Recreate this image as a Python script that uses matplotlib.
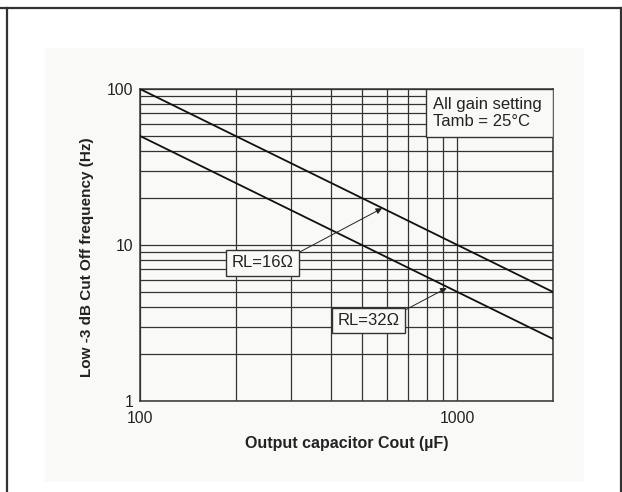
import matplotlib
matplotlib.use('Agg')
import matplotlib.pyplot as plt
from matplotlib.patches import Rectangle
from matplotlib.lines import Line2D
from matplotlib.ticker import FixedLocator, NullFormatter, FixedFormatter

plt.rcParams['font.family'] = ['Liberation Sans', 'DejaVu Sans']

# cutoff frequency vs output capacitor, for the two load resistances
cout = [100, 2000]
f_rl16 = [100, 5]
f_rl32 = [50, 2.5]

x_ticks = [100, 1000]
x_labels = ['100', '1000']
y_ticks = [1, 10, 100]
y_labels = ['1', '10', '100']

panel = '#f9f9f7'
ink = '#333333'

fig = plt.figure(figsize=(6.22, 4.92), dpi=100)
W, H = 622, 492

# light panel behind the chart
fig.patches.append(Rectangle((45 / W, 1 - 482 / H), 539 / W, 434 / H,
                             transform=fig.transFigure, facecolor=panel,
                             edgecolor='none', zorder=-10))
# page frame
for xs, ys in [([0, 1], [1 - 8 / H, 1 - 8 / H]),
               ([6.5 / W, 6.5 / W], [0, 1 - 8 / H]),
               ([621 / W, 621 / W], [0, 1 - 8 / H])]:
    fig.lines.append(Line2D(xs, ys, transform=fig.transFigure, color=ink, lw=1.6))

ax = fig.add_axes([140 / W, 1 - 401 / H, 413 / W, 312 / H])
ax.set_zorder(1)
ax.set_facecolor(panel)
ax.set_xscale('log')
ax.set_yscale('log')
ax.set_xlim(100, 2000)
ax.set_ylim(1, 100)

ax.plot(cout, f_rl16, color='#111111', lw=1.3, zorder=4)
ax.plot(cout, f_rl32, color='#111111', lw=1.3, zorder=4)

ax.xaxis.set_major_locator(FixedLocator(x_ticks))
ax.xaxis.set_major_formatter(FixedFormatter(x_labels))
ax.yaxis.set_major_locator(FixedLocator(y_ticks))
ax.yaxis.set_major_formatter(FixedFormatter(y_labels))
ax.xaxis.set_minor_formatter(NullFormatter())
ax.yaxis.set_minor_formatter(NullFormatter())
ax.tick_params(which='both', length=0, labelsize=11.3, labelcolor='#222222')
ax.tick_params(axis='x', pad=7)
ax.tick_params(axis='y', pad=5)

ax.set_axisbelow(True)
ax.grid(True, which='both', color=ink, lw=0.9)
for sp in ax.spines.values():
    sp.set_color(ink)
    sp.set_linewidth(1.1)

ax.set_ylabel('Low -3 dB Cut Off frequency (Hz)', fontsize=11,
              fontweight='bold', color='#222222')
ax.yaxis.set_label_coords(-0.111, 0.46)
ax.set_xlabel('Output capacitor Cout (\u00b5F)', fontsize=11.5,
              fontweight='bold', color='#222222')
ax.xaxis.set_label_coords(0.5, -0.112)

# condition box in the top right corner
ax.add_patch(Rectangle((0.6925, 0.846), 0.3075, 0.154, transform=ax.transAxes,
                       facecolor=panel, edgecolor=ink, lw=1.0, zorder=3))
ax.text(0.7095, 0.923, 'All gain setting\nTamb = 25\u00b0C', transform=ax.transAxes,
        fontsize=12, linespacing=1.1, color='#222222', ha='left', va='center',
        zorder=5)

box = dict(boxstyle='square,pad=0.32', facecolor=panel, edgecolor=ink, lw=1.0)
ax.annotate('RL=16\u03a9', xy=(579, 17.2), xytext=(242.6, 7.67),
            fontsize=12, color='#222222', ha='center', va='center', bbox=box,
            arrowprops=dict(arrowstyle='-|>', color='#222222', lw=0.7,
                            mutation_scale=9, relpos=(1, 1), shrinkA=0, shrinkB=0),
            zorder=5)
ax.annotate('RL=32\u03a9', xy=(925, 5.3), xytext=(524, 3.28),
            fontsize=12, color='#222222', ha='center', va='center', bbox=box,
            arrowprops=dict(arrowstyle='-|>', color='#222222', lw=0.7,
                            mutation_scale=9, relpos=(1, 1), shrinkA=0, shrinkB=0),
            zorder=5)

fig.savefig('out.png', dpi=100, facecolor='white')
